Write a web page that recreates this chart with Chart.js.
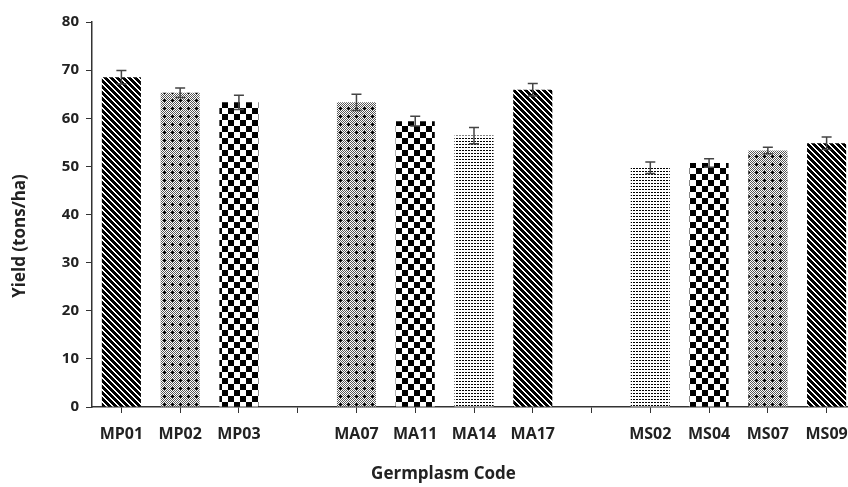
<!DOCTYPE html>
<html>
<head>
<meta charset="utf-8">
<script src="https://cdn.jsdelivr.net/npm/chart.js@4"></script>
<style>
  html, body { margin: 0; padding: 0; background: #fff; overflow: hidden; }
  #wrap { width: 860px; height: 487px; }
</style>
</head>
<body>
<div id="wrap"><canvas id="chart1" width="860" height="487"></canvas></div>
<script>
// germplasm codes, blanks separate the three groups
const categories = ['MP01', 'MP02', 'MP03', '', 'MA07', 'MA11', 'MA14', 'MA17', '', 'MS02', 'MS04', 'MS07', 'MS09']
const yields = [68.5, 65.3, 63.3, null, 63.3, 59.4, 56.4, 65.9, null, 49.7, 50.7, 53.3, 54.8]
const errors = [1.4, 1.0, 1.5, null, 1.7, 1.0, 1.7, 1.3, null, 1.2, 0.9, 0.7, 1.3]
const yTicks = [0, 10, 20, 30, 40, 50, 60, 70, 80]

const FONT = '"Open Sans", "DejaVu Sans", sans-serif'
const INK = '#222'

function makeTile(w, h, draw){
    const c = document.createElement('canvas')
    c.width = w
    c.height = h
    const g = c.getContext('2d')
    g.fillStyle = '#fff'
    g.fillRect(0, 0, w, h)
    g.fillStyle = '#000'
    draw(g, w, h)
    return g.createPattern(c, 'repeat')
}

const patterns = {
    diag: makeTile(6, 6, (g, w, h) => {
        g.fillRect(0, 0, w, h)
        g.fillStyle = '#fff'
        for (let y = 0; y < h; y++){
            for (let x = 0; x < w; x++){
                const d = ((x - y) % 6 + 6) % 6
                if (d === 0 || d === 1) g.fillRect(x, y, 1, 1)
            }
        }
    }),
    grey: makeTile(8, 8, (g, w, h) => {
        g.fillStyle = '#555'
        for (let y = 0; y < h; y++){
            for (let x = 0; x < w; x++){
                if ((x + y) % 2 === 0) g.fillRect(x, y, 1, 1)
            }
        }
        g.fillStyle = '#000'
        g.fillRect(3, 4, 3, 1)
        g.fillRect(4, 3, 1, 3)
    }),
    check: makeTile(12, 12, (g) => {
        g.fillRect(0, 0, 6, 6)
        g.fillRect(6, 6, 6, 6)
    }),
    dots: makeTile(3, 3, (g) => {
        g.fillRect(0, 0, 2, 1)
    })
}
const fills = ['diag', 'grey', 'check', null, 'grey', 'check', 'dots', 'diag', null, 'dots', 'check', 'grey', 'diag']
    .map(k => k ? patterns[k] : '#fff')

// error bars drawn through the chart's own scales
const errorBars = {
    id: 'errorBars',
    afterDatasetsDraw(chart){
        const ctx = chart.ctx
        const x = chart.scales.x
        const y = chart.scales.y
        ctx.save()
        ctx.strokeStyle = '#444'
        ctx.lineWidth = 1.5
        yields.forEach((v, i) => {
            if (v == null) return
            const px = x.getPixelForValue(i)
            const top = y.getPixelForValue(v + errors[i])
            const bot = y.getPixelForValue(v - errors[i])
            ctx.beginPath()
            ctx.moveTo(px, top)
            ctx.lineTo(px, bot)
            ctx.moveTo(px - 5, top)
            ctx.lineTo(px + 5, top)
            ctx.moveTo(px - 5, bot)
            ctx.lineTo(px + 5, bot)
            ctx.stroke()
        })
        ctx.restore()
    }
}

// axis titles
const axisTitles = {
    id: 'axisTitles',
    afterDraw(chart){
        const ctx = chart.ctx
        const a = chart.chartArea
        ctx.save()
        ctx.fillStyle = INK
        ctx.font = 'bold 17px ' + FONT
        ctx.textAlign = 'center'
        ctx.textBaseline = 'middle'
        ctx.fillText('Germplasm Code', a.left + (a.right - a.left) * 0.46, 474)
        ctx.translate(20, 236)
        ctx.rotate(-Math.PI / 2)
        ctx.fillText('Yield (tons/ha)', 0, 0)
        ctx.restore()
    }
}

function grafico1(){
    const data = {
        labels: categories,
        datasets: [{
            data: yields,
            backgroundColor: fills,
            borderWidth: 0,
            categoryPercentage: 1,
            barPercentage: 0.665
        }]
    }
    new Chart(document.getElementById('chart1'), {
        type: 'bar',
        data,
        plugins: [errorBars, axisTitles],
        options: {
            responsive: false,
            animation: false,
            layout: { padding: { top: 22, right: 4, left: 0, bottom: 0 } },
            plugins: { legend: { display: false }, tooltip: { enabled: false } },
            scales: {
                x: {
                    offset: true,
                    grid: { offset: false, drawOnChartArea: false, tickLength: 6, color: '#333', tickColor: '#333' },
                    border: { color: '#333', width: 1.5 },
                    ticks: { color: INK, font: { family: FONT, size: 16, weight: 'bold' }, padding: 12, maxRotation: 0, autoSkip: false },
                    afterFit: s => { s.height = 80 }
                },
                y: {
                    min: 0,
                    max: 80,
                    afterBuildTicks: s => { s.ticks = yTicks.map(v => ({ value: v })) },
                    grid: { drawOnChartArea: false, tickLength: 6, color: '#333', tickColor: '#333' },
                    border: { color: '#333', width: 1.5 },
                    ticks: { color: INK, font: { family: FONT, size: 15, weight: 'bold' }, padding: 7 },
                    afterFit: s => { s.width = 92 }
                }
            }
        }
    })
}

grafico1()
</script>
</body>
</html>
